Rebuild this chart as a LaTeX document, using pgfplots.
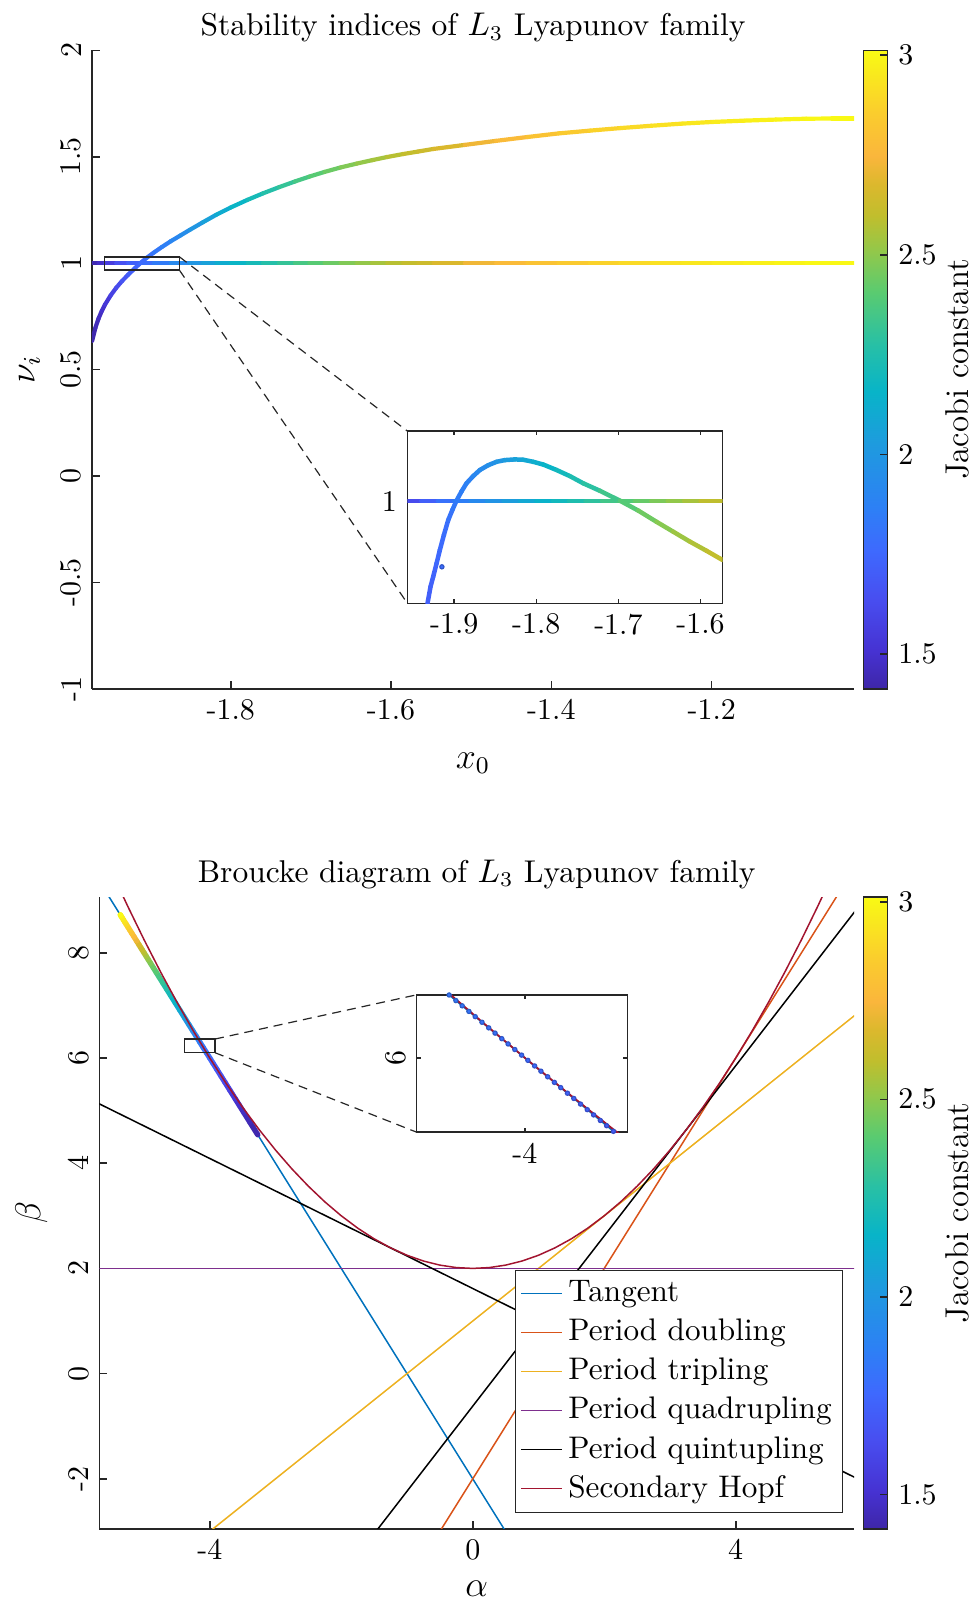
\documentclass[border=0pt]{standalone}
\usepackage{pgfplots}
\usepackage{pgfplotstable}
\pgfplotsset{compat=1.18}

\definecolor{mtan}{RGB}{0,114,189}
\definecolor{mdbl}{RGB}{217,83,25}
\definecolor{mtri}{RGB}{237,177,32}
\definecolor{mqua}{RGB}{126,47,142}
\definecolor{mhopf}{RGB}{162,20,47}

\pgfplotsset{
  colormap={parula}{rgb255(0pt)=(62,38,168); rgb255(19pt)=(70,50,210);
    rgb255(45pt)=(72,78,240); rgb255(69pt)=(62,105,254); rgb255(91pt)=(45,128,245);
    rgb255(123pt)=(30,155,222); rgb255(149pt)=(8,180,200); rgb255(173pt)=(40,192,165);
    rgb255(199pt)=(90,203,112); rgb255(219pt)=(145,200,75); rgb255(237pt)=(192,190,45);
    rgb255(253pt)=(220,184,45); rgb255(267pt)=(250,182,60); rgb255(289pt)=(250,205,45);
    rgb255(320pt)=(249,250,20)},
  mat/.style={scale only axis, tick align=inside,
    axis line style={black!85,line width=0.5pt},
    every tick/.style={black!85,line width=0.5pt},
    tick label style={font=\normalsize},
    label style={font=\fontsize{11.5}{13}\selectfont},
    title style={font=\fontsize{10.5}{12.6}\selectfont, yshift=-6.7pt},
    colormap name=parula, point meta min=1.413, point meta max=3.012},
  cbar/.style={colorbar, colorbar/width=8pt,
    colorbar shift/.style={xshift=3.2pt},
    colorbar style={scale only axis,
    at={(parent axis.north east)}, anchor=north west,
    ytick={1.5,2,2.5,3}, yticklabels={1.5,2,2.5,3}, ytick pos=right,
    tick label style={font=\normalsize},
    axis line style={black!85,line width=0.5pt},
    every tick/.style={black!85,line width=0.5pt},
    major tick length=2.5pt, tick align=inside,
    ylabel={Jacobi constant},
    ylabel style={font=\fontsize{11}{13}\selectfont,
      at={(axis description cs:3.91,0.5)}, anchor=center}}},
}

% upper stability index (x0, nu), Jacobi constant c, Broucke (a,b)
\pgfplotstableread{
x      nu     c      a       b
-1.973 0.635  1.413  -3.270  4.540
-1.969 0.695  1.440  -3.390  4.780
-1.965 0.740  1.460  -3.480  4.960
-1.961 0.775  1.485  -3.550  5.100
-1.957 0.805  1.510  -3.610  5.220
-1.950 0.848  1.560  -3.696  5.392
-1.943 0.884  1.600  -3.768  5.536
-1.936 0.915  1.645  -3.830  5.660
-1.928 0.946  1.690  -3.892  5.784
-1.920 0.975  1.725  -3.950  5.900
-1.913 1.000  1.750  -4.000  6.000
-1.905 1.025  1.780  -4.050  6.100
-1.896 1.050  1.810  -4.100  6.200
-1.886 1.076  1.845  -4.152  6.304
-1.875 1.103  1.880  -4.206  6.412
-1.863 1.130  1.925  -4.260  6.520
-1.851 1.157  1.970  -4.314  6.628
-1.835 1.192  2.030  -4.384  6.768
-1.818 1.228  2.090  -4.456  6.912
-1.800 1.262  2.140  -4.524  7.048
-1.779 1.298  2.190  -4.596  7.192
-1.760 1.328  2.240  -4.656  7.312
-1.740 1.357  2.290  -4.714  7.428
-1.720 1.384  2.335  -4.768  7.536
-1.702 1.407  2.380  -4.814  7.628
-1.683 1.429  2.420  -4.858  7.716
-1.663 1.450  2.460  -4.900  7.800
-1.643 1.468  2.495  -4.936  7.872
-1.624 1.484  2.530  -4.968  7.936
-1.605 1.499  2.565  -4.998  7.996
-1.585 1.513  2.600  -5.026  8.052
-1.566 1.525  2.620  -5.050  8.100
-1.547 1.537  2.645  -5.074  8.148
-1.508 1.556  2.700  -5.112  8.224
-1.469 1.575  2.750  -5.150  8.300
-1.430 1.593  2.790  -5.186  8.372
-1.391 1.610  2.830  -5.220  8.440
-1.352 1.623  2.860  -5.246  8.492
-1.314 1.635  2.890  -5.270  8.540
-1.275 1.646  2.915  -5.292  8.584
-1.237 1.656  2.937  -5.312  8.624
-1.198 1.664  2.957  -5.328  8.656
-1.159 1.670  2.972  -5.340  8.680
-1.120 1.675  2.985  -5.350  8.700
-1.082 1.679  2.997  -5.358  8.716
-1.050 1.680  3.005  -5.360  8.720
-1.022 1.680  3.010  -5.360  8.720
}\upper

% trivial index nu = 1
\pgfplotstableread{
x      nu  c
-1.973 1   1.413
-1.965 1   1.460
-1.957 1   1.510
-1.943 1   1.600
-1.928 1   1.690
-1.913 1   1.750
-1.896 1   1.810
-1.875 1   1.880
-1.851 1   1.970
-1.835 1   2.030
-1.818 1   2.090
-1.800 1   2.140
-1.779 1   2.190
-1.760 1   2.240
-1.740 1   2.290
-1.720 1   2.335
-1.702 1   2.380
-1.683 1   2.420
-1.663 1   2.460
-1.643 1   2.495
-1.624 1   2.530
-1.605 1   2.565
-1.585 1   2.600
-1.566 1   2.620
-1.547 1   2.645
-1.508 1   2.700
-1.469 1   2.750
-1.430 1   2.790
-1.391 1   2.830
-1.352 1   2.860
-1.314 1   2.890
-1.275 1   2.915
-1.237 1   2.937
-1.198 1   2.957
-1.159 1   2.972
-1.120 1   2.985
-1.082 1   2.997
-1.022 1   3.010
}\flat

% inset of the top panel
\pgfplotstableread{
x       nu      c
-1.9325 0.9700  1.71
-1.9288 0.9749  1.72
-1.9256 0.9778  1.73
-1.9215 0.9817  1.745
-1.9175 0.9856  1.76
-1.9126 0.9900  1.775
-1.9073 0.9944  1.79
-1.9020 0.9975  1.82
-1.8972 1.0001  1.84
-1.8911 1.0028  1.855
-1.8850 1.0052  1.87
-1.8769 1.0073  1.895
-1.8687 1.0091  1.92
-1.8586 1.0105  1.95
-1.8484 1.0115  1.98
-1.8383 1.0120  2.015
-1.8261 1.0122  2.05
-1.8160 1.0121  2.08
-1.8038 1.0115  2.11
-1.7916 1.0107  2.14
-1.7754 1.0091  2.18
-1.7591 1.0073  2.22
-1.7429 1.0052  2.26
-1.7226 1.0030  2.31
-1.6982 1.0001  2.37
-1.6759 0.9972  2.42
-1.6536 0.9939  2.47
-1.6333 0.9910  2.51
-1.6130 0.9881  2.55
-1.5927 0.9854  2.585
-1.5732 0.9827  2.62
}\inscurve

\pgfplotstableread{
x      nu  c
-1.957 1   1.58
-1.940 1   1.67
-1.920 1   1.76
-1.900 1   1.83
-1.880 1   1.89
-1.860 1   1.95
-1.840 1   2.01
-1.820 1   2.07
-1.800 1   2.12
-1.780 1   2.17
-1.760 1   2.22
-1.740 1   2.27
-1.720 1   2.32
-1.700 1   2.37
-1.680 1   2.41
-1.660 1   2.45
-1.640 1   2.49
-1.620 1   2.53
-1.600 1   2.57
-1.573 1   2.62
}\insflat

% inset of the Broucke panel
\pgfplotstableread{
a       b      c
-4.180  6.360  1.82
-4.164  6.328  1.82
-4.149  6.298  1.81
-4.133  6.266  1.81
-4.118  6.236  1.80
-4.102  6.204  1.80
-4.086  6.172  1.79
-4.071  6.142  1.79
-4.055  6.110  1.78
-4.040  6.080  1.78
-4.024  6.048  1.77
-4.008  6.016  1.77
-3.993  5.986  1.76
-3.977  5.954  1.76
-3.962  5.924  1.75
-3.946  5.892  1.75
-3.930  5.860  1.74
-3.915  5.830  1.74
-3.899  5.798  1.73
-3.884  5.768  1.73
-3.868  5.736  1.72
-3.852  5.704  1.72
-3.837  5.674  1.71
-3.821  5.642  1.71
-3.806  5.612  1.70
-3.790  5.580  1.70
}\insdots

\begin{document}
\begin{tikzpicture}

% ---------------- stability indices ----------------
\begin{axis}[mat, cbar, name=mainA, at={(30.6pt,-229.6pt)}, anchor=south west,
  width=254.1pt, height=212.8pt,
  xmin=-1.9734, xmax=-1.0223, ymin=-1, ymax=2,
  axis x line*=bottom, axis y line*=left,
  xtick={-1.8,-1.6,-1.4,-1.2}, xticklabels={-1.8,-1.6,-1.4,-1.2},
  ytick={-1,-0.5,0,0.5,1,1.5,2}, yticklabels={-1,-0.5,0,0.5,1,1.5,2},
  yticklabel style={rotate=90,anchor=south},
  major tick length=2.7pt,
  title={Stability indices of $L_3$ Lyapunov family},
  xlabel={$x_0$}, ylabel={$\nu_i$},
  xlabel style={yshift=-4pt}]
\addplot[mesh, point meta=explicit, line width=1.4pt, line cap=round]
  table[x=x, y=nu, meta=c] {\flat};
\addplot[mesh, point meta=explicit, line width=1.4pt, line cap=round]
  table[x=x, y=nu, meta=c] {\upper};
\draw[black!85, line width=0.5pt] (axis cs:-1.9577,0.9675) rectangle (axis cs:-1.8641,1.030);
\coordinate (ra) at (axis cs:-1.8641,1.030);
\coordinate (rb) at (axis cs:-1.8641,0.9675);
\end{axis}

\begin{axis}[mat, name=insA, at={(135.8pt,-201.1pt)}, anchor=south west,
  width=105.1pt, height=57.4pt,
  xmin=-1.957, xmax=-1.573, ymin=0.97, ymax=1.0205,
  xtick={-1.9,-1.8,-1.7,-1.6}, xticklabels={-1.9,-1.8,-1.7,-1.6},
  ytick={1}, yticklabels={1}, major tick length=1.3pt,
  axis background/.style={fill=white}]
\addplot[mesh, point meta=explicit, line width=1.5pt, line cap=round]
  table[x=x, y=nu, meta=c] {\insflat};
\addplot[mesh, point meta=explicit, line width=1.5pt, line cap=round]
  table[x=x, y=nu, meta=c] {\inscurve};
\addplot[scatter, only marks, mark=*, mark size=0.7pt, point meta=explicit]
  coordinates {(-1.915,0.9807) [1.77]};
\end{axis}

\draw[black!85, line width=0.4pt, dash pattern=on 3pt off 2pt]
  (ra) -- (insA.north west) (rb) -- (insA.south west);

% ---------------- Broucke diagram ----------------
\begin{axis}[mat, cbar, name=mainB, at={(33.1pt,-509.6pt)}, anchor=south west,
  width=251.6pt, height=210.6pt,
  xmin=-5.68, xmax=5.8, ymin=-2.95, ymax=9.06,
  axis x line*=bottom, axis y line*=left,
  xtick={-4,0,4}, xticklabels={-4,0,4},
  ytick={-2,0,2,4,6,8}, yticklabels={-2,0,2,4,6,8},
  yticklabel style={rotate=90,anchor=south},
  major tick length=2.7pt,
  title={Broucke diagram of $L_3$ Lyapunov family},
  xlabel={$\alpha$}, ylabel={$\beta$},
  legend style={at={(0.985,0.025)}, anchor=south east,
    font=\fontsize{10.4}{12.5}\selectfont,
    draw=black!85, fill=white, inner sep=1.5pt, row sep=0.3pt},
  legend cell align=left,
  legend image code/.code={\draw[#1] (0pt,0pt) -- (13.5pt,0pt);}]
\addplot[mtan, line width=0.5pt] coordinates {(-6,10) (1,-4)};
\addlegendentry{Tangent}
\addplot[mdbl, line width=0.5pt] coordinates {(-1,-4) (6,10)};
\addlegendentry{Period doubling}
\addplot[mtri, line width=0.5pt] coordinates {(-5,-4) (6,7)};
\addlegendentry{Period tripling}
\addplot[mqua, line width=0.5pt] coordinates {(-6,2) (6,2)};
\addlegendentry{Period quadrupling}
\addplot[black, line width=0.5pt] coordinates {(-6,5.326) (6,-2.090)};
\addlegendentry{Period quintupling}
\addplot[black, line width=0.5pt, forget plot] coordinates {(-2,-3.854) (6,9.090)};
\addplot[mesh, point meta=explicit, line width=1.8pt, line cap=round, forget plot]
  table[x=a, y=b, meta=c] {\upper};
\addplot[mhopf, line width=0.5pt] coordinates {
  (-6,11) (-5.75,10.2656) (-5.5,9.5625) (-5.25,8.8906) (-5,8.25) (-4.75,7.6406)
  (-4.5,7.0625) (-4.25,6.5156) (-4,6) (-3.75,5.5156) (-3.5,5.0625) (-3.25,4.6406)
  (-3,4.25) (-2.75,3.8906) (-2.5,3.5625) (-2.25,3.2656) (-2,3) (-1.75,2.7656)
  (-1.5,2.5625) (-1.25,2.3906) (-1,2.25) (-0.75,2.1406) (-0.5,2.0625) (-0.25,2.0156)
  (0,2) (0.25,2.0156) (0.5,2.0625) (0.75,2.1406) (1,2.25) (1.25,2.3906)
  (1.5,2.5625) (1.75,2.7656) (2,3) (2.25,3.2656) (2.5,3.5625) (2.75,3.8906)
  (3,4.25) (3.25,4.6406) (3.5,5.0625) (3.75,5.5156) (4,6) (4.25,6.5156)
  (4.5,7.0625) (4.75,7.6406) (5,8.25) (5.25,8.8906) (5.5,9.5625) (5.75,10.2656) (6,11)};
\addlegendentry{Secondary Hopf}
\draw[black!85, line width=0.5pt] (axis cs:-4.386,6.10) rectangle (axis cs:-3.92,6.36);
\coordinate (rc) at (axis cs:-3.92,6.36);
\coordinate (rd) at (axis cs:-3.92,6.10);
\end{axis}

\begin{axis}[mat, name=insB, at={(138.9pt,-377.4pt)}, anchor=south west,
  width=70.2pt, height=45.8pt,
  xmin=-4.257, xmax=-3.757, ymin=5.575, ymax=6.361,
  xtick={-4}, xticklabels={-4}, ytick={6}, yticklabels={6},
  yticklabel style={rotate=90,anchor=south},
  major tick length=1.3pt,
  axis background/.style={fill=white}]
\addplot[mtan, line width=0.5pt] coordinates {(-4.3,6.6) (-3.7,5.4)};
\addplot[scatter, only marks, mark=*, mark size=0.7pt, point meta=explicit]
  table[x=a, y=b, meta=c] {\insdots};
\addplot[mhopf, line width=0.6pt] coordinates {
  (-4.3,6.6225) (-4.2,6.41) (-4.1,6.2025) (-4,6) (-3.9,5.8025) (-3.8,5.61) (-3.7,5.4225)};
\end{axis}

\draw[black!85, line width=0.4pt, dash pattern=on 3pt off 2pt]
  (rc) -- (insB.north west) (rd) -- (insB.south west);

\pgfresetboundingbox
\path[use as bounding box] (0pt,0pt) rectangle (325pt,-535.67pt);
\end{tikzpicture}
\end{document}
